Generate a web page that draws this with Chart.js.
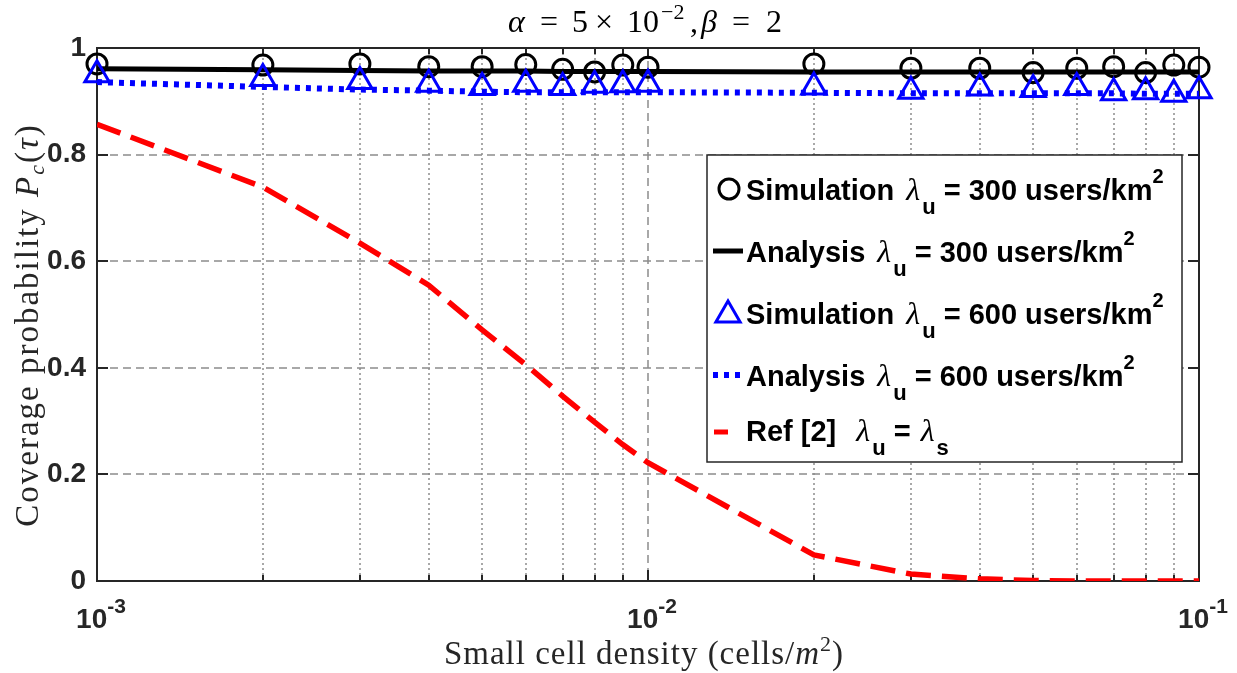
<!DOCTYPE html>
<html>
<head>
<meta charset="utf-8">
<script src="https://cdn.jsdelivr.net/npm/chart.js@4.4.0/dist/chart.umd.min.js"></script>
<style>
  html, body { margin: 0; padding: 0; background: #fff; }
</style>
</head>
<body>
<canvas id="covChart" width="1237" height="673"></canvas>
<script>
// small cell density (cells/m^2)
const density = [0.001, 0.002, 0.003, 0.004, 0.005, 0.006, 0.007, 0.008, 0.009,
  0.01, 0.02, 0.03, 0.04, 0.05, 0.06, 0.07, 0.08, 0.09, 0.1];

const sim300 = [0.970, 0.968, 0.970, 0.965, 0.965, 0.969, 0.960, 0.955, 0.968,
  0.964, 0.970, 0.962, 0.962, 0.954, 0.962, 0.965, 0.954, 0.968, 0.964];
const ana300 = [0.961, 0.959, 0.958, 0.957, 0.957, 0.957, 0.956, 0.956, 0.956,
  0.956, 0.955, 0.955, 0.955, 0.955, 0.955, 0.955, 0.955, 0.955, 0.955];
const sim600 = [0.950, 0.943, 0.937, 0.932, 0.926, 0.932, 0.926, 0.930, 0.931,
  0.932, 0.927, 0.919, 0.925, 0.922, 0.926, 0.916, 0.918, 0.913, 0.920];
const ana600 = [0.936, 0.927, 0.922, 0.920, 0.918, 0.917, 0.917, 0.917, 0.917,
  0.917, 0.916, 0.915, 0.915, 0.915, 0.915, 0.915, 0.914, 0.914, 0.914];
const ref2 = [0.857, 0.739, 0.634, 0.555, 0.471, 0.406, 0.347, 0.298, 0.256,
  0.222, 0.049, 0.013, 0.004, 0.001, 0, 0, 0, 0, 0];

const xTickValues = [0.001, 0.002, 0.003, 0.004, 0.005, 0.006, 0.007, 0.008, 0.009,
  0.01, 0.02, 0.03, 0.04, 0.05, 0.06, 0.07, 0.08, 0.09, 0.1];
const xTickLabels = { 0.001: "-3", 0.01: "-2", 0.1: "-1" };

const B = n => `bold ${n}px "Liberation Sans", Arial, sans-serif`;
const S = n => `${n}px "Liberation Serif", serif`;
const SI = n => `italic ${n}px "Liberation Serif", serif`;
const AXIS = "#262626";
const GRID = "#8c8c8c";

const pts = ys => density.map((x, i) => ({ x, y: ys[i] }));

function drawRich(ctx, x, y, parts) {
  parts.forEach(p => {
    ctx.font = p.font;
    ctx.fillText(p.text, x, y + (p.dy || 0));
    x += ctx.measureText(p.text).width + (p.gap || 0);
  });
}
function richWidth(ctx, parts) {
  let w = 0;
  parts.forEach(p => { ctx.font = p.font; w += ctx.measureText(p.text).width + (p.gap || 0); });
  return w;
}
const isDecade = v => Math.abs(Math.log10(v) - Math.round(Math.log10(v))) < 1e-9;

function seg(ctx, x1, y1, x2, y2) {
  ctx.beginPath(); ctx.moveTo(x1, y1); ctx.lineTo(x2, y2); ctx.stroke();
}

const frame = {
  id: "frame",
  beforeDatasetsDraw(chart) {
    const { ctx, chartArea: a, scales: { x, y } } = chart;
    ctx.save();
    ctx.strokeStyle = GRID;
    ctx.lineWidth = 1.5;
    // grid
    ctx.setLineDash([8, 5]);
    y.ticks.forEach(t => {
      if (t.value <= 0 || t.value >= 1) return;
      const py = Math.round(y.getPixelForValue(t.value));
      seg(ctx, a.left, py, a.right, py);
    });
    x.ticks.forEach(t => {
      if (t.value <= x.min || t.value >= x.max) return;
      const px = Math.round(x.getPixelForValue(t.value));
      ctx.setLineDash(isDecade(t.value) ? [8, 5] : [2, 3]);
      seg(ctx, px, a.top, px, a.bottom);
    });
    // box and tick marks
    ctx.setLineDash([]);
    ctx.strokeStyle = AXIS;
    ctx.lineWidth = 2;
    ctx.strokeRect(a.left, a.top, a.right - a.left, a.bottom - a.top);
    y.ticks.forEach(t => {
      const py = Math.round(y.getPixelForValue(t.value));
      seg(ctx, a.left, py, a.left + 11, py);
      seg(ctx, a.right, py, a.right - 11, py);
    });
    x.ticks.forEach(t => {
      const px = Math.round(x.getPixelForValue(t.value));
      const len = isDecade(t.value) ? 11 : 6;
      seg(ctx, px, a.bottom, px, a.bottom - len);
      seg(ctx, px, a.top, px, a.top + len);
    });
    ctx.restore();
  },
  afterDatasetsDraw(chart) {
    const { ctx } = chart;
    ctx.save();
    // legend box
    const lx = 707, ly = 155, lw = 475, lh = 307;
    ctx.fillStyle = "#fff";
    ctx.fillRect(lx, ly, lw, lh);
    ctx.strokeStyle = AXIS;
    ctx.lineWidth = 1.5;
    ctx.strokeRect(lx, ly, lw, lh);

    const rows = [189, 251, 313, 375, 432];
    // symbols
    ctx.strokeStyle = "#000";
    ctx.lineWidth = 3;
    ctx.beginPath(); ctx.arc(729, rows[0], 10, 0, Math.PI * 2); ctx.stroke();
    ctx.lineWidth = 5;
    seg(ctx, 713, rows[1], 743, rows[1]);
    ctx.strokeStyle = "#0000ff";
    ctx.lineWidth = 3;
    ctx.beginPath();
    for (let k = 0; k < 3; k++) {
      const ang = k * 2 * Math.PI / 3;
      const px = 728 + Math.sin(ang) * 14, py = rows[2] + 2 - Math.cos(ang) * 14;
      k === 0 ? ctx.moveTo(px, py) : ctx.lineTo(px, py);
    }
    ctx.closePath(); ctx.stroke();
    ctx.lineWidth = 6;
    ctx.setLineDash([5, 6]);
    seg(ctx, 713, rows[3], 745, rows[3]);
    ctx.setLineDash([]);
    ctx.strokeStyle = "#ff0000";
    ctx.lineWidth = 5;
    seg(ctx, 714, rows[4], 728, rows[4]);

    // texts
    ctx.fillStyle = "#000";
    ctx.textAlign = "left";
    ctx.textBaseline = "alphabetic";
    const entry = (name, val) => [
      { text: name + " ", font: B(29), gap: 4 },
      { text: "λ", font: SI(32), gap: 2 },
      { text: "u", font: B(22), dy: 14 },
      { text: " = " + val + " users/km", font: B(29) },
      { text: "2", font: B(20), dy: -17 }
    ];
    drawRich(ctx, 746, rows[0] + 11, entry("Simulation", 300));
    drawRich(ctx, 746, rows[1] + 11, entry("Analysis", 300));
    drawRich(ctx, 746, rows[2] + 11, entry("Simulation", 600));
    drawRich(ctx, 746, rows[3] + 11, entry("Analysis", 600));
    drawRich(ctx, 746, rows[4] + 9, [
      { text: "Ref [2]  ", font: B(29), gap: 4 },
      { text: "λ", font: SI(32), gap: 2 },
      { text: "u", font: B(22), dy: 14 },
      { text: " = ", font: B(29), gap: 2 },
      { text: "λ", font: SI(32), gap: 2 },
      { text: "s", font: B(22), dy: 14 }
    ]);
    ctx.restore();
  },
  afterDraw(chart) {
    const { ctx, scales: { x } } = chart;
    ctx.save();
    ctx.fillStyle = AXIS;
    ctx.textBaseline = "alphabetic";
    // x tick labels 10^k
    xTickValues.filter(isDecade).forEach(v => {
      const parts = [
        { text: "10", font: B(28) },
        { text: xTickLabels[v], font: B(21), dy: -15 }
      ];
      const w = richWidth(ctx, parts);
      drawRich(ctx, x.getPixelForValue(v) - w / 2 + 4, 628, parts);
    });
    // title, placed glyph by glyph like TeX math spacing
    ctx.fillStyle = "#000";
    const title = [
      { text: "α", font: SI(32), at: 0 },
      { text: "=", font: S(32), at: 32 },
      { text: "5", font: S(32), at: 64 },
      { text: "×", font: S(32), at: 87 },
      { text: "10", font: S(32), at: 119 },
      { text: "−2", font: S(22), at: 153, dy: -13 },
      { text: ",", font: S(32), at: 182 },
      { text: "β", font: SI(32), at: 193 },
      { text: "=", font: S(32), at: 224 },
      { text: "2", font: S(32), at: 258 }
    ];
    title.forEach(p => {
      ctx.font = p.font;
      ctx.fillText(p.text, 508 + p.at, 32 + (p.dy || 0));
    });
    // x title
    ctx.fillStyle = AXIS;
    ctx.letterSpacing = "1px";
    const xt = [
      { text: "Small cell density (cells/", font: S(33) },
      { text: "m", font: SI(33) },
      { text: "2", font: S(22), dy: -13 },
      { text: ")", font: S(33) }
    ];
    drawRich(ctx, 644 - richWidth(ctx, xt) / 2, 664, xt);
    // y title
    ctx.letterSpacing = "2px";
    const yt = [
      { text: "Coverage probability ", font: S(33) },
      { text: "P", font: SI(33) },
      { text: "c", font: SI(22), dy: 6 },
      { text: "(", font: S(33) },
      { text: "τ", font: SI(33) },
      { text: ")", font: S(33) }
    ];
    ctx.translate(38, 325);
    ctx.rotate(-Math.PI / 2);
    drawRich(ctx, -richWidth(ctx, yt) / 2, 0, yt);
    ctx.restore();
  }
};

new Chart(document.getElementById("covChart"), {
  type: "line",
  data: {
    datasets: [
      {
        label: "Ref [2]",
        data: pts(ref2),
        borderColor: "#ff0000",
        borderWidth: 5.5,
        borderDash: [25, 11],
        pointRadius: 0,
        order: 0
      },
      {
        label: "Analysis 600",
        data: pts(ana600),
        borderColor: "#0000ff",
        borderWidth: 6,
        borderDash: [5, 6],
        pointRadius: 0,
        order: 1
      },
      {
        label: "Simulation 600",
        data: pts(sim600),
        showLine: false,
        pointStyle: "triangle",
        pointRadius: 14,
        pointBorderWidth: 3,
        pointBorderColor: "#0000ff",
        pointBackgroundColor: "rgba(0,0,0,0)",
        clip: false,
        order: 2
      },
      {
        label: "Analysis 300",
        data: pts(ana300),
        borderColor: "#000",
        borderWidth: 5,
        pointRadius: 0,
        order: 3
      },
      {
        label: "Simulation 300",
        data: pts(sim300),
        showLine: false,
        pointStyle: "circle",
        pointRadius: 10,
        pointBorderWidth: 3,
        pointBorderColor: "#000",
        pointBackgroundColor: "rgba(0,0,0,0)",
        clip: false,
        order: 4
      }
    ]
  },
  options: {
    responsive: false,
    animation: false,
    events: [],
    layout: { padding: { top: 48, right: 38, left: 0, bottom: 0 } },
    scales: {
      x: {
        type: "logarithmic",
        min: 0.001,
        max: 0.1,
        afterBuildTicks: s => { s.ticks = xTickValues.map(v => ({ value: v })); },
        afterFit: s => { s.height = 92; },
        ticks: { display: false },
        grid: { display: false, drawTicks: false },
        border: { display: false }
      },
      y: {
        min: 0,
        max: 1,
        afterFit: s => { s.width = 97; },
        ticks: {
          stepSize: 0.2,
          padding: 11,
          color: AXIS,
          callback: v => String(Number(v.toFixed(1))),
          font: { family: "'Liberation Sans', Arial, sans-serif", size: 28, weight: "bold" }
        },
        grid: { display: false, drawTicks: false },
        border: { display: false }
      }
    },
    plugins: {
      legend: { display: false },
      tooltip: { enabled: false }
    }
  },
  plugins: [frame]
});
</script>
</body>
</html>
